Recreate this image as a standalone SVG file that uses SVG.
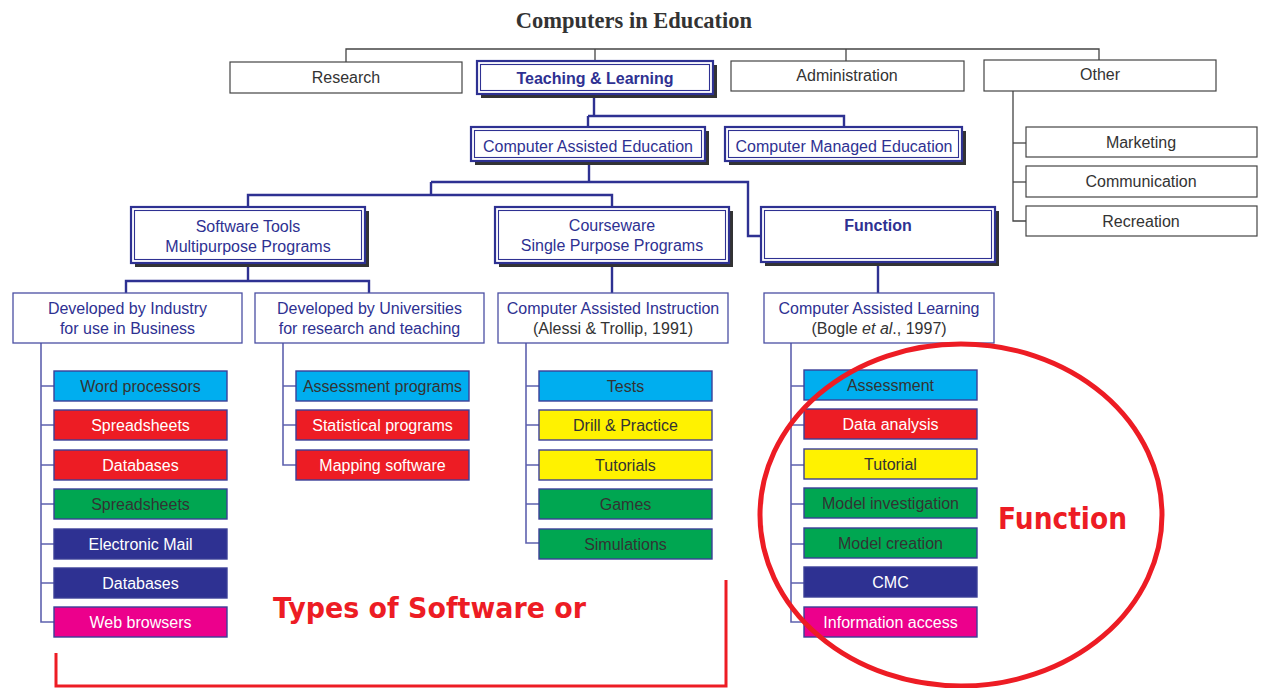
<svg xmlns="http://www.w3.org/2000/svg" width="1261" height="688" viewBox="0 0 1261 688">
<style>
text{font-family:"Liberation Sans",Arial,sans-serif;font-size:16px;text-anchor:middle}
.title{font-family:"Liberation Serif","Times New Roman",serif;font-size:22.5px;font-weight:bold;fill:#333}
.g{fill:#333}
.n{fill:#2E3192}
.w{fill:#fff}
.b{font-weight:bold}
.plain{fill:#fff;stroke:#444;stroke-width:1.2}
.nbox{fill:#fff;stroke:#4B4FA3;stroke-width:1.3}
.shadow{fill:#333}
.outer{fill:#fff;stroke:#2E3192;stroke-width:2.2}
.inner{fill:none;stroke:#2E3192;stroke-width:1.1}
.gline{fill:none;stroke:#444;stroke-width:1.3}
.nline{fill:none;stroke:#2E3192;stroke-width:2.4}
.lline{fill:none;stroke:#5E61AE;stroke-width:1.6}
.leaf{stroke:#3B3F98;stroke-width:1.4}
.cy{fill:#00AEEF}.rd{fill:#ED1C24}.gr{fill:#00A651}.nv{fill:#2E3192}.mg{fill:#EC008C}.ye{fill:#FFF200}
.red{fill:none;stroke:#ED1C24}
.rtext{font-family:"DejaVu Sans",Verdana,sans-serif;font-weight:bold;fill:#ED1C24;text-anchor:start}
.r1{font-size:29px}
.r2{font-size:30px}
</style>

<text class="title" x="634" y="28">Computers in Education</text>

<g id="connectors">
  <path class="gline" d="M346,62 V49 H1099 V60"/>
  <path class="gline" d="M595,49 V61"/>
  <path class="gline" d="M846,49 V61"/>
  <path class="gline" d="M1013,91 V221 H1026"/>
  <path class="gline" d="M1013,143 H1026"/>
  <path class="gline" d="M1013,182 H1026"/>
  <path class="nline" d="M594,97 V116"/>
  <path class="nline" d="M588,116 H844 V127"/>
  <path class="nline" d="M588,116 V127"/>
  <path class="nline" d="M589,165 V182"/>
  <path class="nline" d="M431,182 H748 V236 H761"/>
  <path class="nline" d="M431,182 V195"/>
  <path class="nline" d="M248,207 V195 H612 V207"/>
  <path class="nline" d="M248,267 V281"/>
  <path class="nline" d="M126,293 V281 H369 V293"/>
  <path class="nline" d="M612,267 V293"/>
  <path class="nline" d="M878,266 V293"/>
  <path class="lline" d="M41,343 V622 H54 M41,386 H54 M41,425 H54 M41,465 H54 M41,504 H54 M41,544 H54 M41,583 H54"/>
  <path class="lline" d="M283,343 V465 H296 M283,386 H296 M283,425 H296"/>
  <path class="lline" d="M526,343 V543 H539 M526,386 H539 M526,425 H539 M526,465 H539 M526,504 H539"/>
  <path class="lline" d="M791,343 V622 H804 M791,386 H804 M791,425 H804 M791,465 H804 M791,504 H804 M791,544 H804 M791,583 H804"/>
</g>

<g id="research"><rect class="plain" x="230" y="62" width="232" height="31"/><text class="g" x="346" y="83">Research</text></g>
<g id="teaching"><rect class="shadow" x="481" y="65" width="236" height="33"/><rect class="outer" x="477" y="61" width="236" height="33"/><rect class="inner" x="480.5" y="64.5" width="229" height="26"/><text class="n b" x="595" y="83.5">Teaching &amp; Learning</text></g>
<g id="administration"><rect class="plain" x="731" y="61" width="233" height="30"/><text class="g" x="847" y="81">Administration</text></g>
<g id="other"><rect class="plain" x="984" y="60" width="232" height="31"/><text class="g" x="1100" y="80">Other</text></g>
<g id="marketing"><rect class="plain" x="1026" y="127" width="231" height="30"/><text class="g" x="1141" y="147.5">Marketing</text></g>
<g id="communication"><rect class="plain" x="1026" y="166" width="231" height="31"/><text class="g" x="1141" y="187">Communication</text></g>
<g id="recreation"><rect class="plain" x="1026" y="206" width="231" height="30"/><text class="g" x="1141" y="226.5">Recreation</text></g>

<g id="cae"><rect class="shadow" x="475" y="131" width="234" height="34"/><rect class="outer" x="471" y="127" width="234" height="34"/><rect class="inner" x="474.5" y="130.5" width="227" height="27"/><text class="n" x="588" y="151.5">Computer Assisted Education</text></g>
<g id="cme"><rect class="shadow" x="729" y="131" width="237" height="34"/><rect class="outer" x="725" y="127" width="237" height="34"/><rect class="inner" x="728.5" y="130.5" width="230" height="27"/><text class="n" x="844" y="151.5">Computer Managed Education</text></g>

<g id="software-tools"><rect class="shadow" x="135" y="211" width="234" height="56"/><rect class="outer" x="131" y="207" width="234" height="56"/><rect class="inner" x="134.5" y="210.5" width="227" height="49"/><text class="n" x="248" y="232">Software Tools</text><text class="n" x="248" y="251.5">Multipurpose Programs</text></g>
<g id="courseware"><rect class="shadow" x="499" y="211" width="234" height="56"/><rect class="outer" x="495" y="207" width="234" height="56"/><rect class="inner" x="498.5" y="210.5" width="227" height="49"/><text class="n" x="612" y="231">Courseware</text><text class="n" x="612" y="251">Single Purpose Programs</text></g>
<g id="function"><rect class="shadow" x="765" y="211" width="234" height="55"/><rect class="outer" x="761" y="207" width="234" height="55"/><rect class="inner" x="764.5" y="210.5" width="227" height="48"/><text class="n b" x="878" y="230.5">Function</text></g>

<g id="industry"><rect class="nbox" x="13" y="293" width="229" height="50"/><text class="n" x="127.5" y="313.5">Developed by Industry</text><text class="n" x="127.5" y="333.5">for use in Business</text></g>
<g id="universities"><rect class="nbox" x="255" y="293" width="229" height="50"/><text class="n" x="369.5" y="313.5">Developed by Universities</text><text class="n" x="369.5" y="333.5">for research and teaching</text></g>
<g id="cai"><rect class="nbox" x="498" y="293" width="230" height="50"/><text class="n" x="613" y="313.5">Computer Assisted Instruction</text><text class="g" x="613" y="333.5">(Alessi &amp; Trollip, 1991)</text></g>
<g id="cal"><rect class="nbox" x="764" y="293" width="230" height="50"/><text class="n" x="879" y="313.5">Computer Assisted Learning</text><text class="g" x="879" y="333.5">(Bogle <tspan font-style="italic">et al</tspan>., 1997)</text></g>

<g id="col-industry">
  <g id="a1"><rect class="leaf cy" x="54" y="371" width="173" height="30"/><text class="g" x="140.5" y="391.5">Word processors</text></g>
  <g id="a2"><rect class="leaf rd" x="54" y="410" width="173" height="30"/><text class="w" x="140.5" y="430.5">Spreadsheets</text></g>
  <g id="a3"><rect class="leaf rd" x="54" y="450" width="173" height="30"/><text class="w" x="140.5" y="470.5">Databases</text></g>
  <g id="a4"><rect class="leaf gr" x="54" y="489" width="173" height="30"/><text class="g" x="140.5" y="509.5">Spreadsheets</text></g>
  <g id="a5"><rect class="leaf nv" x="54" y="529" width="173" height="30"/><text class="w" x="140.5" y="549.5">Electronic Mail</text></g>
  <g id="a6"><rect class="leaf nv" x="54" y="568" width="173" height="30"/><text class="w" x="140.5" y="588.5">Databases</text></g>
  <g id="a7"><rect class="leaf mg" x="54" y="607" width="173" height="30"/><text class="w" x="140.5" y="627.5">Web browsers</text></g>
</g>
<g id="col-universities">
  <g id="b1"><rect class="leaf cy" x="296" y="371" width="173" height="30"/><text class="g" x="382.5" y="391.5">Assessment programs</text></g>
  <g id="b2"><rect class="leaf rd" x="296" y="410" width="173" height="30"/><text class="w" x="382.5" y="430.5">Statistical programs</text></g>
  <g id="b3"><rect class="leaf rd" x="296" y="450" width="173" height="30"/><text class="w" x="382.5" y="470.5">Mapping software</text></g>
</g>
<g id="col-cai">
  <g id="c1"><rect class="leaf cy" x="539" y="371" width="173" height="30"/><text class="g" x="625.5" y="391.5">Tests</text></g>
  <g id="c2"><rect class="leaf ye" x="539" y="410" width="173" height="30"/><text class="g" x="625.5" y="430.5">Drill &amp; Practice</text></g>
  <g id="c3"><rect class="leaf ye" x="539" y="450" width="173" height="30"/><text class="g" x="625.5" y="470.5">Tutorials</text></g>
  <g id="c4"><rect class="leaf gr" x="539" y="489" width="173" height="30"/><text class="g" x="625.5" y="509.5">Games</text></g>
  <g id="c5"><rect class="leaf gr" x="539" y="529" width="173" height="30"/><text class="g" x="625.5" y="549.5">Simulations</text></g>
</g>
<g id="col-cal">
  <g id="d1"><rect class="leaf cy" x="804" y="370" width="173" height="30"/><text class="g" x="890.5" y="390.5">Assessment</text></g>
  <g id="d2"><rect class="leaf rd" x="804" y="409" width="173" height="30"/><text class="w" x="890.5" y="429.5">Data analysis</text></g>
  <g id="d3"><rect class="leaf ye" x="804" y="449" width="173" height="30"/><text class="g" x="890.5" y="469.5">Tutorial</text></g>
  <g id="d4"><rect class="leaf gr" x="804" y="488" width="173" height="30"/><text class="g" x="890.5" y="508.5">Model investigation</text></g>
  <g id="d5"><rect class="leaf gr" x="804" y="528" width="173" height="30"/><text class="g" x="890.5" y="548.5">Model creation</text></g>
  <g id="d6"><rect class="leaf nv" x="804" y="567" width="173" height="30"/><text class="w" x="890.5" y="587.5">CMC</text></g>
  <g id="d7"><rect class="leaf mg" x="804" y="607" width="173" height="30"/><text class="w" x="890.5" y="627.5">Information access</text></g>
</g>

<g id="annotations">
  <path class="red" stroke-width="3" d="M56,653 V686 H726 V580"/>
  <ellipse class="red" stroke-width="5" cx="961" cy="515" rx="201" ry="171"/>
  <text class="rtext r1" x="273" y="618" textLength="313" lengthAdjust="spacingAndGlyphs">Types of Software or</text>
  <text class="rtext r2" x="998" y="529" textLength="129" lengthAdjust="spacingAndGlyphs">Function</text>
</g>
</svg>
